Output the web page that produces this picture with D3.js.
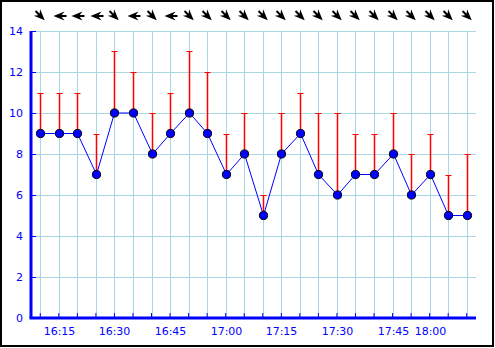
<!DOCTYPE html>
<html>
<head>
<meta charset="utf-8">
<script src="https://cdn.jsdelivr.net/npm/d3@7"></script>
<style>
  body { margin: 0; background: #fff; }
  svg { display: block; }
</style>
</head>
<body>
<div id="chart"></div>
<script>
// Times (x categories), measured values, upper error values, wind from-direction
const times = ['16:10', '16:15', '16:20', '16:25', '16:30', '16:35', '16:40', '16:45', '16:50', '16:55',
    '17:00', '17:05', '17:10', '17:15', '17:20', '17:25', '17:30', '17:35', '17:40', '17:45',
    '17:50', '18:00', '18:05', '18:10'];
const values = [9, 9, 9, 7, 10, 10, 8, 9, 10, 9, 7, 8, 5, 8, 9, 7, 6, 7, 7, 8, 6, 7, 5, 5];
const highs = [11, 11, 11, 9, 13, 12, 10, 11, 13, 12, 9, 10, 6, 10, 11, 10, 10, 9, 9, 10, 8, 9, 7, 8];
const windFrom = ['NW', 'E', 'E', 'E', 'NW', 'E', 'NW', 'E', 'NW', 'NW', 'NW', 'NW', 'NW', 'NW', 'NW',
    'NW', 'NW', 'NW', 'NW', 'NW', 'NW', 'NW', 'NW', 'NW'];
const xLabels = ['16:15', '16:30', '16:45', '17:00', '17:15', '17:30', '17:45', '18:00'];
const yTicks = [0, 2, 4, 6, 8, 10, 12, 14];

const width = 495;
const height = 348;
const plot = { left: 31, right: 476, top: 31, bottom: 318 };

const blue = '#0000ff';
const grid = '#a8d8e4';

const svg = d3.select('#chart')
    .append('svg')
    .attr('width', width)
    .attr('height', height)
    .style('font-family', 'DejaVu Sans, sans-serif');

// Outer frame
svg.append('rect')
    .attr('x', 1)
    .attr('y', 1)
    .attr('width', width - 3)
    .attr('height', height - 3)
    .attr('fill', 'white')
    .attr('stroke', 'black')
    .attr('stroke-width', 2);

const x = d3.scaleBand()
    .domain(times)
    .range([plot.left, plot.right]);
const cx = t => Math.round(x(t) + x.bandwidth() / 2) + 0.5;

const y = d3.scaleLinear()
    .domain([0, 14])
    .range([plot.bottom, plot.top]);
const py = v => Math.round(y(v)) + 0.5;

// Grid
svg.append('g')
    .selectAll('line')
    .data(times)
    .enter()
    .append('line')
    .attr('x1', d => cx(d))
    .attr('x2', d => cx(d))
    .attr('y1', plot.top)
    .attr('y2', plot.bottom)
    .attr('stroke', grid)
    .attr('stroke-width', 1);

svg.append('g')
    .selectAll('line')
    .data(yTicks)
    .enter()
    .append('line')
    .attr('x1', plot.left)
    .attr('x2', plot.right)
    .attr('y1', d => py(d))
    .attr('y2', d => py(d))
    .attr('stroke', grid)
    .attr('stroke-width', 1);

// Y axis
const yAxis = svg.append('g')
    .attr('transform', `translate(${plot.left},0)`)
    .call(d3.axisRight(y).tickValues(yTicks).tickSize(5).tickFormat(''));
yAxis.select('.domain').attr('stroke', blue).attr('stroke-width', 3)
    .attr('d', `M0,${plot.top}V${plot.bottom}`);
yAxis.selectAll('.tick line').attr('stroke', blue).attr('stroke-width', 1);

svg.append('g')
    .selectAll('text')
    .data(yTicks)
    .enter()
    .append('text')
    .attr('x', 23)
    .attr('y', d => y(d))
    .attr('dy', '0.36em')
    .attr('text-anchor', 'end')
    .style('font-size', '11px')
    .attr('fill', blue)
    .text(d => d);

// X axis
const xAxis = svg.append('g')
    .attr('transform', `translate(0,${plot.bottom})`)
    .call(d3.axisTop(x).tickSize(5).tickSizeOuter(0).tickFormat(''));
xAxis.select('.domain').attr('stroke', blue).attr('stroke-width', 3)
    .attr('d', `M${plot.left - 1.5},0H${plot.right}`);
xAxis.selectAll('.tick line').attr('stroke', blue).attr('stroke-width', 1);

svg.append('g')
    .selectAll('text')
    .data(xLabels)
    .enter()
    .append('text')
    .attr('x', d => cx(d))
    .attr('y', 331)
    .attr('dy', '0.36em')
    .attr('text-anchor', 'middle')
    .style('font-size', '11px')
    .attr('fill', blue)
    .text(d => d);

// Error bars (value up to high)
const bars = svg.append('g')
    .selectAll('g')
    .data(times.map((t, i) => ({ t, v: values[i], h: highs[i] })))
    .enter()
    .append('g');

bars.append('line')
    .attr('x1', d => cx(d.t))
    .attr('x2', d => cx(d.t))
    .attr('y1', d => py(d.v))
    .attr('y2', d => py(d.h))
    .attr('stroke', '#ff0000')
    .attr('stroke-width', 1.5);

bars.append('line')
    .attr('x1', d => cx(d.t) - 3)
    .attr('x2', d => cx(d.t) + 3)
    .attr('y1', d => py(d.h))
    .attr('y2', d => py(d.h))
    .attr('stroke', '#ff0000')
    .attr('stroke-width', 1);

// Line
const line = d3.line()
    .x((d, i) => cx(times[i]))
    .y(d => y(d));

svg.append('path')
    .datum(values)
    .attr('d', line)
    .attr('fill', 'none')
    .attr('stroke', blue)
    .attr('stroke-width', 1);

// Points
svg.append('g')
    .selectAll('circle')
    .data(values)
    .enter()
    .append('circle')
    .attr('cx', (d, i) => cx(times[i]))
    .attr('cy', d => y(d))
    .attr('r', 4.1)
    .attr('fill', blue)
    .attr('stroke', 'black')
    .attr('stroke-width', 1);

// Wind arrows: rotation in degrees the arrow points to
const arrowAngle = { NW: 45, E: 180 };

svg.append('g')
    .selectAll('path')
    .data(windFrom)
    .enter()
    .append('path')
    .attr('transform', (d, i) => `translate(${cx(times[i])},16) rotate(${arrowAngle[d]})`)
    .attr('d', 'M6,0 L-5,-4.5 L-1.5,0 L-5,4.5 Z M-1.5,-1 H-7 V1 H-1.5 Z')
    .attr('fill', 'black');
</script>
</body>
</html>
